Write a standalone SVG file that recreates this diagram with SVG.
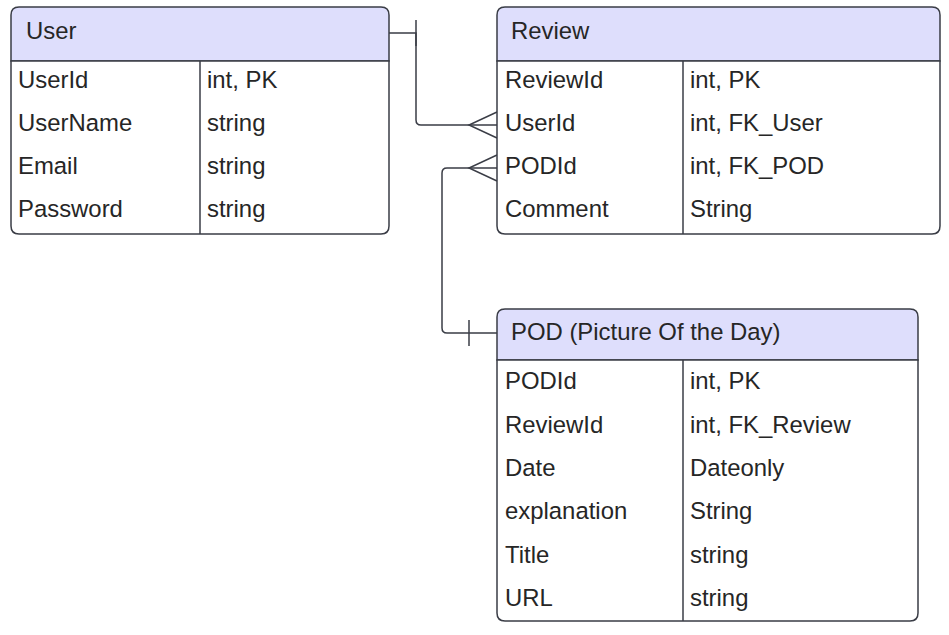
<svg xmlns="http://www.w3.org/2000/svg" width="949" height="635" viewBox="0 0 949 635">
<style>
.box{fill:#ffffff;stroke:#3a3d46;stroke-width:1.5}
.hdr{fill:#dedefc;stroke:#3a3d46;stroke-width:1.5}
.ln{fill:none;stroke:#3a3d46;stroke-width:1.5}
text{font-family:"Liberation Sans",Arial,sans-serif;font-size:23.9px;fill:#262626}
</style>
<rect width="949" height="635" fill="#ffffff"/>
<g id="connectors">
<path class="ln" d="M389,33 H416 V120 Q416,125 421,125 H497"/>
<path class="ln" d="M416,20 V46"/>
<path class="ln" d="M497,112 L469,125 L497,138"/>
<path class="ln" d="M497,168 H447 Q442,168 442,173 V328 Q442,333 447,333 H497"/>
<path class="ln" d="M497,155 L469,168 L497,181"/>
<path class="ln" d="M469,320 V346"/>
</g>
<g id="user">
<path class="hdr" d="M19,7 H381 Q389,7 389,15 V61 H11 V15 Q11,7 19,7 Z"/>
<path class="box" d="M11,61 H389 V226 Q389,234 381,234 H19 Q11,234 11,226 Z"/>
<path class="ln" d="M200,61 V234"/>
<text x="26" y="38.5">User</text>
<text x="18" y="87.5">UserId</text><text x="207" y="87.5">int, PK</text>
<text x="18" y="130.8">UserName</text><text x="207" y="130.8">string</text>
<text x="18" y="174">Email</text><text x="207" y="174">string</text>
<text x="18" y="217.3">Password</text><text x="207" y="217.3">string</text>
</g>
<g id="review">
<path class="hdr" d="M505,7 H932 Q940,7 940,15 V61 H497 V15 Q497,7 505,7 Z"/>
<path class="box" d="M497,61 H940 V226 Q940,234 932,234 H505 Q497,234 497,226 Z"/>
<path class="ln" d="M683,61 V234"/>
<text x="511" y="38.5">Review</text>
<text x="505" y="87.5">ReviewId</text><text x="690" y="87.5">int, PK</text>
<text x="505" y="130.8">UserId</text><text x="690" y="130.8">int, FK_User</text>
<text x="505" y="174">PODId</text><text x="690" y="174">int, FK_POD</text>
<text x="505" y="217.3">Comment</text><text x="690" y="217.3">String</text>
</g>
<g id="pod">
<path class="hdr" d="M505,309 H910 Q918,309 918,317 V360 H497 V317 Q497,309 505,309 Z"/>
<path class="box" d="M497,360 H918 V613 Q918,621 910,621 H505 Q497,621 497,613 Z"/>
<path class="ln" d="M683,360 V621"/>
<text x="511" y="339.5">POD (Picture Of the Day)</text>
<text x="505" y="389.3">PODId</text><text x="690" y="389.3">int, PK</text>
<text x="505" y="432.6">ReviewId</text><text x="690" y="432.6">int, FK_Review</text>
<text x="505" y="476">Date</text><text x="690" y="476">Dateonly</text>
<text x="505" y="519.3">explanation</text><text x="690" y="519.3">String</text>
<text x="505" y="562.6">Title</text><text x="690" y="562.6">string</text>
<text x="505" y="606">URL</text><text x="690" y="606">string</text>
</g>
</svg>
